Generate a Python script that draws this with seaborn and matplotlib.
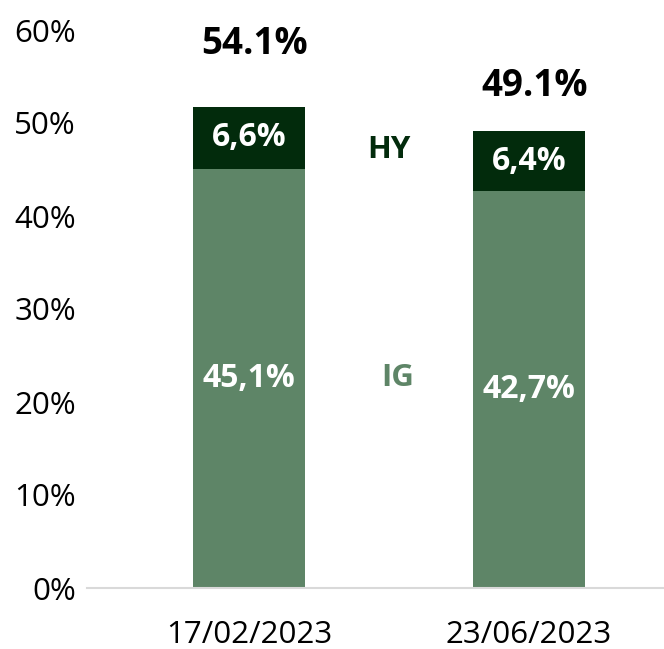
import matplotlib
matplotlib.use("Agg")
import matplotlib.pyplot as plt
import seaborn as sns
import pandas as pd

dates = ["17/02/2023", "23/06/2023"]
ig = [45.1, 42.7]
hy = [6.6, 6.4]
ig_labels = ["45,1%", "42,7%"]
hy_labels = ["6,6%", "6,4%"]
total_labels = ["54.1%", "49.1%"]
yticks = [0, 10, 20, 30, 40, 50, 60]

sns.set_style("white")
plt.rcParams["font.family"] = ["Open Sans", "DejaVu Sans"]

IG_C = "#5e8567"
HY_C = "#022b0c"

df = pd.DataFrame({"date": dates, "IG": ig, "HY": hy})
df["total"] = df["IG"] + df["HY"]

fig = plt.figure(figsize=(6.64, 6.49), dpi=100)
ax = fig.add_axes([87/664, 1 - 588/649, 577/664, 558/649])

sns.barplot(data=df, x="date", y="total", color=HY_C, width=0.4, ax=ax,
            saturation=1, linewidth=0)
sns.barplot(data=df, x="date", y="IG", color=IG_C, width=0.4, ax=ax,
            saturation=1, linewidth=0)

ax.set_ylim(0, 60)
ax.set_xlim(-0.579, 1.482)
ax.set_yticks(yticks)
ax.set_yticklabels([f"{t}%" for t in yticks])
ax.set_xlabel("")
ax.set_ylabel("")
ax.tick_params(axis="both", length=0, labelsize=22.5, colors="black")
ax.tick_params(axis="y", pad=8)
ax.tick_params(axis="x", pad=23)
for s in ["left", "right", "top"]:
    ax.spines[s].set_visible(False)
ax.spines["bottom"].set_color("#d9d9d9")
ax.spines["bottom"].set_linewidth(1.5)

for i in range(len(dates)):
    ax.text(i, ig[i] / 2, ig_labels[i], ha="center", va="center",
            color="white", fontsize=23, fontweight="bold")
    ax.text(i, ig[i] + hy[i] / 2, hy_labels[i], ha="center", va="center",
            color="white", fontsize=23, fontweight="bold")

total_pos = [58.5, 54.0]
for i in range(len(dates)):
    ax.text(i + 0.02, total_pos[i], total_labels[i], ha="center", va="center",
            color="black", fontsize=26.5, fontweight="bold")

ax.text(0.5, 47.1, "HY", ha="center", va="center", color=HY_C,
        fontsize=22.5, fontweight="bold")
ax.text(0.53, 22.6, "IG", ha="center", va="center", color=IG_C,
        fontsize=22.5, fontweight="bold")

fig.savefig("out.png", dpi=100)
